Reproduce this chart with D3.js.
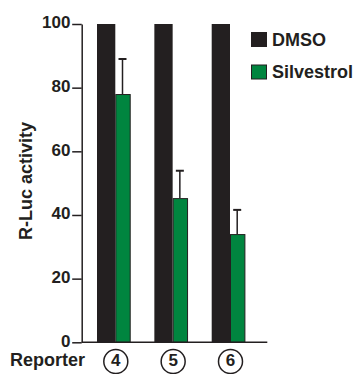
<!DOCTYPE html>
<html>
<head>
<meta charset="utf-8">
<script src="https://cdn.jsdelivr.net/npm/d3@7"></script>
<style>
  html, body { margin: 0; padding: 0; background: #fff; }
  svg { display: block; }
  text { font-family: "Liberation Sans", Arial, sans-serif; font-weight: bold; fill: #231f20; }
</style>
</head>
<body>
<svg id="chart" width="356" height="374"></svg>
<script>
// Reporter constructs on the x axis
const reporters = ["4", "5", "6"];
// Treatments
const treatments = ["DMSO", "Silvestrol"];
// R-Luc activity (% of DMSO)
const dmsoValues = [100, 100, 100];
const silvestrolValues = [78, 45.3, 34];
const silvestrolErrors = [11, 8.6, 7.6];
// Y-axis ticks
const yTicks = [0, 20, 40, 60, 80, 100];

const dark = "#231f20";
const green = "#00853f";
const colors = { DMSO: dark, Silvestrol: green };

const svg = d3.select("#chart");

const y = d3.scaleLinear().domain([0, 100]).range([342.3, 24]);
// Point at the boundary between each pair of bars
const x = d3.scalePoint().domain(reporters).range([115.3, 230]);
// Offsets of each treatment bar relative to the pair boundary
const sub = { DMSO: [-18.3, 0], Silvestrol: [0, 15.4] };

const data = reporters.map((r, i) => ({
  reporter: r,
  DMSO: dmsoValues[i],
  Silvestrol: silvestrolValues[i],
  err: silvestrolErrors[i]
}));

// Error bars (drawn beneath bars so the stem meets the bar top)
const eb = svg.append("g").attr("stroke", dark);
data.forEach(d => {
  const cx = x(d.reporter) + 7.2;
  eb.append("line")
    .attr("x1", cx).attr("x2", cx)
    .attr("y1", y(d.Silvestrol)).attr("y2", y(d.Silvestrol + d.err))
    .attr("stroke-width", 1.5);
  eb.append("line")
    .attr("x1", cx - 4).attr("x2", cx + 4)
    .attr("y1", y(d.Silvestrol + d.err)).attr("y2", y(d.Silvestrol + d.err))
    .attr("stroke-width", 2);
});

// Bars
const bars = svg.append("g");
data.forEach(d => {
  // DMSO
  bars.append("rect")
    .attr("x", x(d.reporter) + sub.DMSO[0])
    .attr("width", sub.DMSO[1] - sub.DMSO[0])
    .attr("y", y(d.DMSO))
    .attr("height", y(0) - y(d.DMSO))
    .attr("fill", colors.DMSO);
  // Silvestrol (outlined)
  bars.append("rect")
    .attr("x", x(d.reporter) + sub.Silvestrol[0] + 0.5)
    .attr("width", sub.Silvestrol[1] - sub.Silvestrol[0] - 1)
    .attr("y", y(d.Silvestrol) + 0.5)
    .attr("height", y(0) - y(d.Silvestrol) - 0.5)
    .attr("fill", colors.Silvestrol)
    .attr("stroke", dark)
    .attr("stroke-width", 1);
});

// Y axis
const yAxis = svg.append("g")
  .attr("transform", "translate(81.7,0)")
  .call(d3.axisLeft(y).tickValues(yTicks).tickSize(9.5).tickSizeOuter(0).tickPadding(1.8));
yAxis.select(".domain").attr("stroke", dark).attr("stroke-width", 1.5);
yAxis.selectAll(".tick line").attr("stroke", dark).attr("stroke-width", 1.5);
yAxis.selectAll(".tick text")
  .attr("fill", dark)
  .attr("dy", "0.22em")
  .style("font-size", "17px")
  .style("font-weight", "bold")
  .style("font-family", "'Liberation Sans', Arial, sans-serif");

// X baseline
svg.append("line")
  .attr("x1", 81.7).attr("x2", 267.3)
  .attr("y1", y(0)).attr("y2", y(0))
  .attr("stroke", dark).attr("stroke-width", 1.5);

// Y axis title
svg.append("text")
  .attr("transform", "translate(32.3,181) rotate(-90)")
  .attr("text-anchor", "middle")
  .style("font-size", "18px")
  .text("R-Luc activity");

// Category labels
svg.append("text")
  .attr("x", 10).attr("y", 365.7)
  .style("font-size", "18px")
  .text("Reporter");

const cat = svg.append("g");
reporters.forEach(r => {
  cat.append("circle")
    .attr("cx", x(r) + 0.5).attr("cy", 361.5).attr("r", 12)
    .attr("fill", "none").attr("stroke", dark).attr("stroke-width", 1.5);
  cat.append("text")
    .attr("x", x(r) + 0.5).attr("y", 366)
    .attr("text-anchor", "middle")
    .style("font-size", "17px")
    .text(r);
});

// Legend
const legend = svg.append("g");
treatments.forEach((t, i) => {
  const ly = 32 + i * 32.5;
  legend.append("rect")
    .attr("x", t === "DMSO" ? 251 : 251.5).attr("y", ly + (t === "DMSO" ? 0 : 0.5))
    .attr("width", t === "DMSO" ? 16 : 15).attr("height", t === "DMSO" ? 15 : 14)
    .attr("fill", colors[t])
    .attr("stroke", t === "DMSO" ? "none" : dark)
    .attr("stroke-width", 1);
  legend.append("text")
    .attr("x", 272).attr("y", ly + 13.5)
    .style("font-size", "18px")
    .text(t);
});
</script>
</body>
</html>
